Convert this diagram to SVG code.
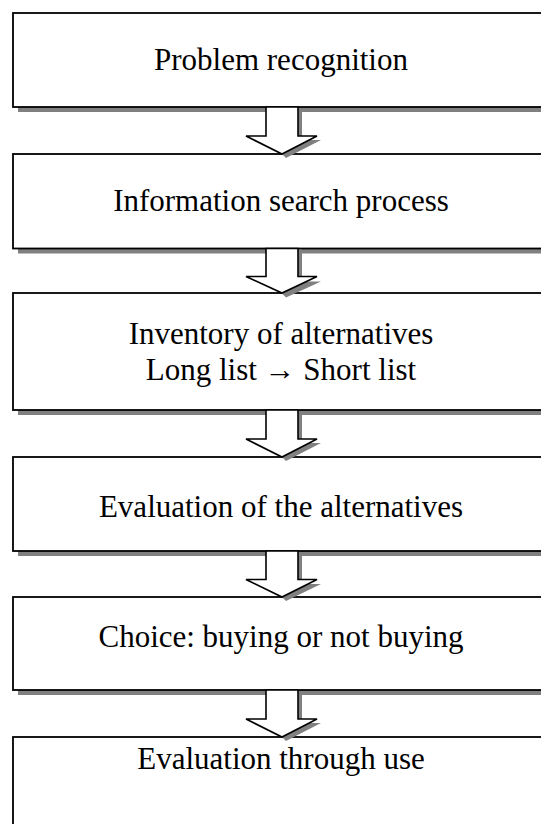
<svg xmlns="http://www.w3.org/2000/svg" width="541" height="824" viewBox="0 0 541 824">
<style>
.shadow{fill:#808080;stroke:none}
.box{fill:#ffffff;stroke:#000000;stroke-width:1.8}
.arrow{fill:#ffffff;stroke:#000000;stroke-width:1.6;stroke-linejoin:miter}
.label{font-family:"Liberation Serif","Times New Roman",serif;font-size:31px;fill:#000000;text-anchor:middle}
</style>
<rect width="541" height="824" fill="#ffffff"/>
<g id="node1">
<rect class="shadow" x="18" y="18" width="545" height="94"/>
<rect class="box" x="13" y="13" width="545" height="94"/>
<text class="label" x="281" y="70">Problem recognition</text>
</g>
<g id="node2">
<rect class="shadow" x="18" y="159" width="545" height="94.5"/>
<rect class="box" x="13" y="154" width="545" height="94.5"/>
<text class="label" x="281" y="211">Information search process</text>
</g>
<g id="node3">
<rect class="shadow" x="18" y="298" width="545" height="117"/>
<rect class="box" x="13" y="293" width="545" height="117"/>
<text class="label" x="281" y="344">Inventory of alternatives</text>
<text class="label" x="281" y="380">Long list → Short list</text>
</g>
<g id="node4">
<rect class="shadow" x="18" y="462" width="545" height="94"/>
<rect class="box" x="13" y="457" width="545" height="94"/>
<text class="label" x="281" y="517">Evaluation of the alternatives</text>
</g>
<g id="node5">
<rect class="shadow" x="18" y="602" width="545" height="93"/>
<rect class="box" x="13" y="597" width="545" height="93"/>
<text class="label" x="281" y="647">Choice: buying or not buying</text>
</g>
<g id="node6">
<rect class="shadow" x="18" y="742" width="545" height="100"/>
<rect class="box" x="13" y="737" width="545" height="100"/>
<text class="label" x="281" y="769">Evaluation through use</text>
</g>
<g id="connectors">
<g transform="translate(0,107)">
<polygon class="shadow" points="298,1 302,1 302,33 321,33 286,51 282,47 282,1"/>
<polygon class="arrow" points="266,0 298,0 298,29 317,29 282,47 246,29 266,29"/>
</g>
<g transform="translate(0,248.5)">
<polygon class="shadow" points="298,1 302,1 302,33 321,33 286,49 282,45 282,1"/>
<polygon class="arrow" points="266,0 298,0 298,28 317,28 282,44.5 246,28 266,28"/>
</g>
<g transform="translate(0,410)">
<polygon class="shadow" points="298,1 302,1 302,33 321,33 286,51 282,47 282,1"/>
<polygon class="arrow" points="266,0 298,0 298,29 317,29 282,47 246,29 266,29"/>
</g>
<g transform="translate(0,551)">
<polygon class="shadow" points="298,1 302,1 302,33 321,33 286,50 282,46 282,1"/>
<polygon class="arrow" points="266,0 298,0 298,28.5 317,28.5 282,46 246,28.5 266,28.5"/>
</g>
<g transform="translate(0,690)">
<polygon class="shadow" points="298,1 302,1 302,33 321,33 286,51 282,47 282,1"/>
<polygon class="arrow" points="266,0 298,0 298,29 317,29 282,47 246,29 266,29"/>
</g>
</g>
</svg>
